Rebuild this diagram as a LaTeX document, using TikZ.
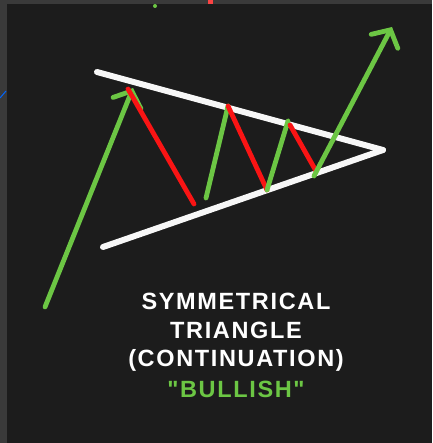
\documentclass[tikz,border=0pt]{standalone}
\usepackage{fontspec}
\setmainfont{Liberation Sans}
\newfontfamily\labelfont[LetterSpace=7]{Liberation Sans Bold}
\usetikzlibrary{arrows.meta}
\definecolor{bgdark}{HTML}{1C1C1C}
\definecolor{framegray}{HTML}{3A3A3A}
\definecolor{upgreen}{HTML}{6CC644}
\definecolor{downred}{HTML}{FA1414}
\definecolor{chalkwhite}{HTML}{F7F7F7}
\tikzset{
  bound/.style={line width=6pt, chalkwhite, line cap=round},
  upleg/.style={line width=4.8pt, upgreen, line cap=round},
  downleg/.style={line width=4.8pt, downred, line cap=round},
  uparrow/.style={upleg, -{Straight Barb[length=13pt,width=30pt,line cap=round]}},
  caption/.style={font=\labelfont\fontsize{23.5}{25}\selectfont, text=white, anchor=center, inner sep=0pt}
}
\begin{document}
\begin{tikzpicture}[x=1pt,y=-1pt]
\useasboundingbox (0,0) rectangle (432,443);
\fill[framegray] (0,0) rectangle (432,443);
\fill[bgdark] (7,4) rectangle (432,443);
% small remnants at the edges
\draw[line width=1pt, blue!60!cyan] (0,98) -- (6,91);
\fill[upgreen] (155,6) circle (2pt);
\fill[downred!80] (208,0) rectangle (213,4);
% triangle boundaries
\coordinate (tl) at (97,72);
\coordinate (bl) at (103,247);
\coordinate (apex) at (383,150);
\draw[bound] (tl) -- (apex);
\draw[bound] (bl) -- (apex);
% price path points
\coordinate (p0) at (45,307);
\coordinate (p1) at (133,88);
\coordinate (p2) at (194,204);
\coordinate (p3) at (206,198);
\coordinate (p4) at (228,106);
\coordinate (p5) at (267,190);
\coordinate (p6) at (288,121);
\coordinate (p7) at (316,171);
\coordinate (p8) at (392,27);
\coordinate (r1) at (128,89);
\coordinate (r3) at (290,125);
\coordinate (g4) at (314,176);
\draw[uparrow] (p0) -- (p1);
\draw[downleg] (r1) -- (p2);
\draw[upleg] (p3) -- (p4);
\draw[downleg] (p4) -- (p5);
\draw[upleg] (p5) -- (p6);
\draw[downleg] (r3) -- (p7);
\draw[uparrow] (g4) -- (p8);
% caption
\node[caption] (t1) at (236,301) {SYMMETRICAL};
\node[caption] (t2) at (236,330) {TRIANGLE};
\node[caption] (t3) at (236,360) {(CONTINUATION)};
\node[caption, text=upgreen] (t4) at (236,389) {"BULLISH"};
\end{tikzpicture}
\end{document}
